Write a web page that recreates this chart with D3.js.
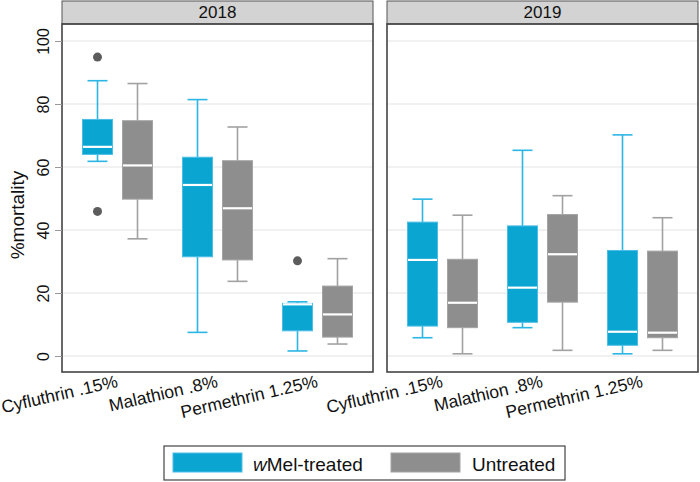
<!DOCTYPE html>
<html><head><meta charset="utf-8">
<script src="https://cdn.jsdelivr.net/npm/d3@7"></script>
<style>body{margin:0;background:#fff}svg{display:block;font-family:Arial,"Liberation Sans",sans-serif}</style>
</head><body><svg id="c" width="700" height="482"></svg>
<script>
const years = ["2018", "2019"];
const categories = ["Cyfluthrin .15%", "Malathion .8%", "Permethrin 1.25%"];
const groups = ["wMel-treated", "Untreated"];
const yTicks = [0, 20, 40, 60, 80, 100];
// each: [whiskerLow, q1, median, q3, whiskerHigh]
const wmel2018 = [[61.8, 64.0, 66.4, 75.1, 87.4], [7.5, 31.5, 54.3, 63.1, 81.4], [1.6, 8.0, 16.4, 16.7, 17.2]];
const untr2018 = [[37.2, 49.8, 60.5, 74.7, 86.5], [23.7, 30.5, 46.9, 62.0, 72.7], [3.8, 6.0, 13.2, 22.2, 30.9]];
const wmel2019 = [[5.8, 9.5, 30.5, 42.5, 49.8], [9.0, 10.7, 21.7, 41.3, 65.3], [0.7, 3.4, 7.7, 33.5, 70.2]];
const untr2019 = [[0.7, 9.0, 16.9, 30.7, 44.7], [1.8, 17.1, 32.3, 44.9, 50.9], [1.8, 5.8, 7.4, 33.3, 43.9]];
// outliers: [categoryIndex, value]
const wmelOut2018 = [[0, 94.9], [0, 45.9], [2, 30.2]];
const untrOut2018 = [];
const wmelOut2019 = [];
const untrOut2019 = [];

const data = {
  "2018": {stats: [wmel2018, untr2018], out: [wmelOut2018, untrOut2018]},
  "2019": {stats: [wmel2019, untr2019], out: [wmelOut2019, untrOut2019]}
};
const fills = ["#0aa5d1", "#8e8e8e"];
const strokes = ["#4cbde6", "#a4a4a4"];
const whiskerCol = ["#2bb6e4", "#a2a2a2"];

const svg = d3.select("#c");
const plotTop = 24, plotBottom = 372, headerTop = 1;
const panels = [{x0: 62, x1: 373}, {x0: 387, x1: 698}];
const y = d3.scaleLinear().domain([-5.08, 105.4]).range([plotBottom, plotTop]);

years.forEach((yr, pi) => {
  const p = panels[pi];
  const g = svg.append("g");
  const x = d3.scalePoint().domain(categories).range([p.x0, p.x1]).padding(0.555);
  const off = d3.scalePoint().domain(groups).range([-20, 20]);
  g.selectAll("line.grid").data(yTicks).join("line")
    .attr("x1", p.x0).attr("x2", p.x1).attr("y1", d => y(d)).attr("y2", d => y(d))
    .attr("stroke", "#e3e3e3").attr("stroke-width", 1.2);
  g.append("rect").attr("x", p.x0).attr("y", headerTop).attr("width", p.x1 - p.x0).attr("height", plotTop - headerTop)
    .attr("fill", "#d3d3d3").attr("stroke", "#555").attr("stroke-width", 1);
  g.append("text").attr("x", (p.x0 + p.x1) / 2).attr("y", plotTop - 6).attr("text-anchor", "middle")
    .attr("font-size", 17).attr("fill", "#111").text(yr);
  const d = data[yr];
  groups.forEach((grp, gi) => {
    const stats = d.stats[gi];
    stats.forEach((s, ci) => {
      const cx = x(categories[ci]) + off(grp);
      const bw = 30, cw = 20;
      const wc = whiskerCol[gi];
      g.append("line").attr("x1", cx).attr("x2", cx).attr("y1", y(s[3])).attr("y2", y(s[4])).attr("stroke", wc).attr("stroke-width", 1.6);
      g.append("line").attr("x1", cx).attr("x2", cx).attr("y1", y(s[1])).attr("y2", y(s[0])).attr("stroke", wc).attr("stroke-width", 1.6);
      g.append("line").attr("x1", cx - cw / 2).attr("x2", cx + cw / 2).attr("y1", y(s[4])).attr("y2", y(s[4])).attr("stroke", wc).attr("stroke-width", 1.6);
      g.append("line").attr("x1", cx - cw / 2).attr("x2", cx + cw / 2).attr("y1", y(s[0])).attr("y2", y(s[0])).attr("stroke", wc).attr("stroke-width", 1.6);
      g.append("rect").attr("x", cx - bw / 2).attr("y", y(s[3])).attr("width", bw).attr("height", y(s[1]) - y(s[3]))
        .attr("fill", fills[gi]).attr("stroke", strokes[gi]).attr("stroke-width", 1);
      g.append("line").attr("x1", cx - bw / 2 + 0.5).attr("x2", cx + bw / 2 - 0.5).attr("y1", y(s[2])).attr("y2", y(s[2]))
        .attr("stroke", "#fff").attr("stroke-width", 2.2);
    });
    d.out[gi].forEach(o => {
      g.append("circle").attr("cx", x(categories[o[0]]) + off(grp)).attr("cy", y(o[1])).attr("r", 4.5).attr("fill", "#5c5c5c");
    });
  });
  g.append("rect").attr("x", p.x0).attr("y", plotTop).attr("width", p.x1 - p.x0).attr("height", plotBottom - plotTop)
    .attr("fill", "none").attr("stroke", "#444").attr("stroke-width", 1.6);
  g.selectAll("text.xl").data(categories).join("text")
    .attr("transform", c => `translate(${x(c) - 2},${plotBottom + 1}) rotate(-13)`)
    .attr("text-anchor", "end").attr("dy", "0.8em").attr("font-size", 17.5).attr("fill", "#111").text(c => c);
});

const ax = svg.append("g").attr("transform", `translate(${panels[0].x0},0)`)
  .call(d3.axisLeft(y).tickValues(yTicks).tickSize(7).tickPadding(4));
ax.select(".domain").remove();
ax.selectAll(".tick line").attr("stroke", "#999");
ax.selectAll(".tick text").attr("font-size", 16).attr("fill", "#111")
  .attr("text-anchor", "middle").attr("dy", "0")
  .attr("transform", "translate(-13,0) rotate(-90)").attr("x", 0).attr("y", 0);
svg.append("text").attr("transform", `translate(17,215) rotate(-90)`)
  .attr("text-anchor", "middle").attr("dy", "0.35em").attr("font-size", 19).attr("fill", "#111").text("%mortality");

const lg = svg.append("g");
lg.append("rect").attr("x", 164).attr("y", 446).attr("width", 401).attr("height", 34)
  .attr("fill", "#fff").attr("stroke", "#444").attr("stroke-width", 1.2);
const legItems = [{x: 173, tx: 253}, {x: 391, tx: 472}];
groups.forEach((grp, i) => {
  lg.append("rect").attr("x", legItems[i].x).attr("y", 453).attr("width", 69).attr("height", 19)
    .attr("fill", fills[i]).attr("stroke", strokes[i]).attr("stroke-width", 1);
  const t = lg.append("text").attr("x", legItems[i].tx).attr("y", 471).attr("font-size", 19).attr("fill", "#111");
  if (grp.startsWith("wMel")) {
    t.append("tspan").attr("font-style", "italic").text("w");
    t.append("tspan").text(grp.slice(1));
  } else t.text(grp);
});
</script></body></html>
